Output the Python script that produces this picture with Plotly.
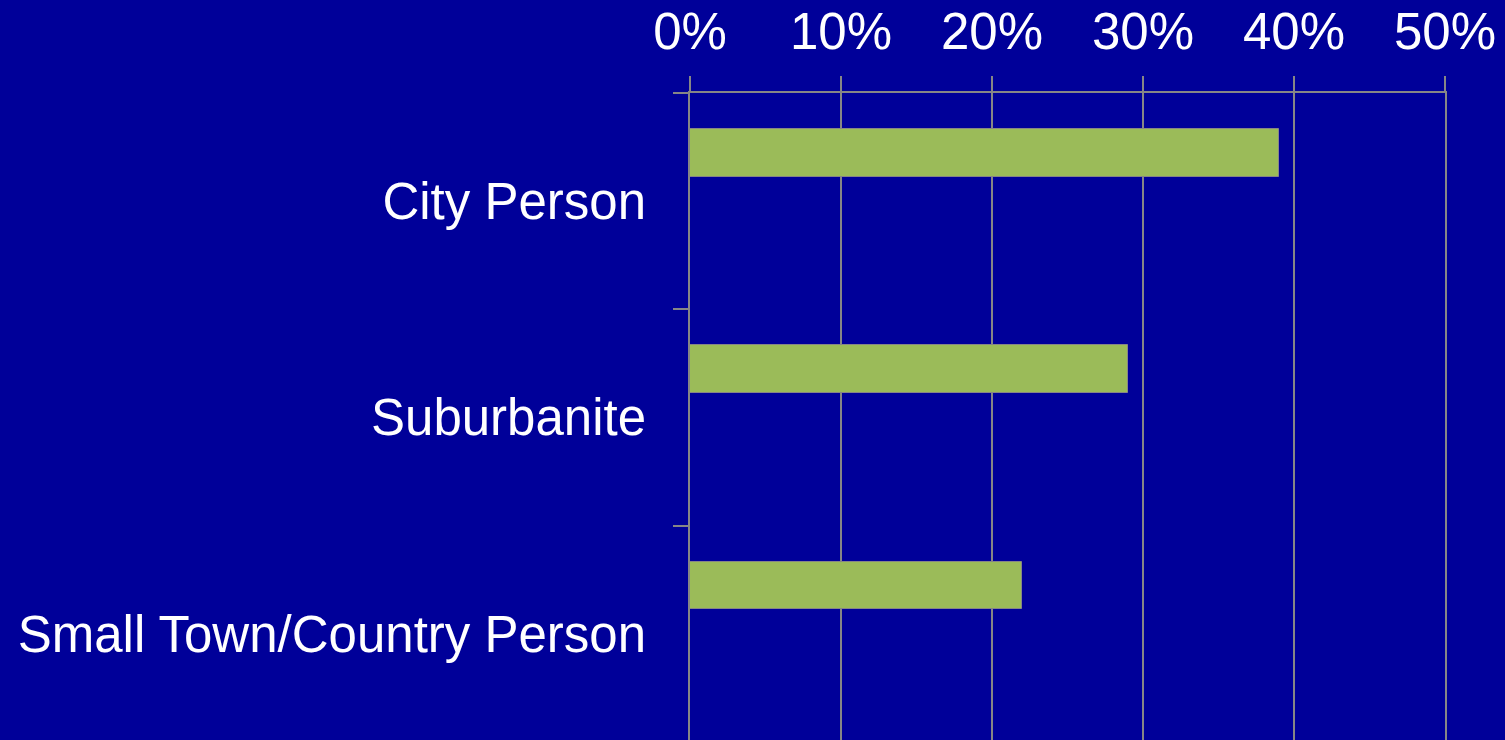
import plotly.graph_objects as go

# Data
categories = ["City Person", "Suburbanite", "Small Town/Country Person"]
shares = [0.39, 0.29, 0.22]
tick_values = [0, 0.1, 0.2, 0.3, 0.4, 0.5]
tick_labels = ["0%", "10%", "20%", "30%", "40%", "50%"]

BG = "#000099"
BAR = "#9BBB59"
GRID = "#868686"
FONT = "Liberation Sans, Arial, sans-serif"

fig = go.Figure()

fig.add_trace(
    go.Bar(
        y=categories,
        x=shares,
        orientation="h",
        width=0.22,
        offset=-0.334,
        marker=dict(color=BAR, line=dict(color=GRID, width=1)),
        hovertemplate="%{y}: %{x:.0%}<extra></extra>",
    )
)

fig.update_xaxes(
    side="top",
    range=[0, 0.5],
    tickvals=tick_values,
    ticktext=tick_labels,
    showgrid=True,
    gridcolor=GRID,
    gridwidth=1.5,
    zeroline=False,
    showline=True,
    linecolor=GRID,
    linewidth=1.5,
    ticks="outside",
    ticklen=15,
    tickwidth=1.5,
    tickcolor=GRID,
    ticklabelstandoff=7,
    tickfont=dict(family=FONT, size=51, color="white"),
)

fig.update_yaxes(
    type="category",
    range=[2.49, -0.5],
    tickson="boundaries",
    ticks="outside",
    ticklen=15,
    tickwidth=1.5,
    tickcolor=GRID,
    showgrid=False,
    showline=True,
    mirror=True,
    linecolor=GRID,
    linewidth=1.5,
    ticklabelstandoff=32,
    tickfont=dict(family=FONT, size=51, color="white"),
)

fig.update_layout(
    width=1505,
    height=740,
    autosize=False,
    margin=dict(l=690, r=60, t=93, b=0),
    plot_bgcolor=BG,
    paper_bgcolor=BG,
    showlegend=False,
    bargap=0,
)

# drop the default page margin so the figure sits flush in the window
fig.write_html(
    "out.html",
    config={"displayModeBar": False},
    post_script="document.body.style.margin='0';",
)
